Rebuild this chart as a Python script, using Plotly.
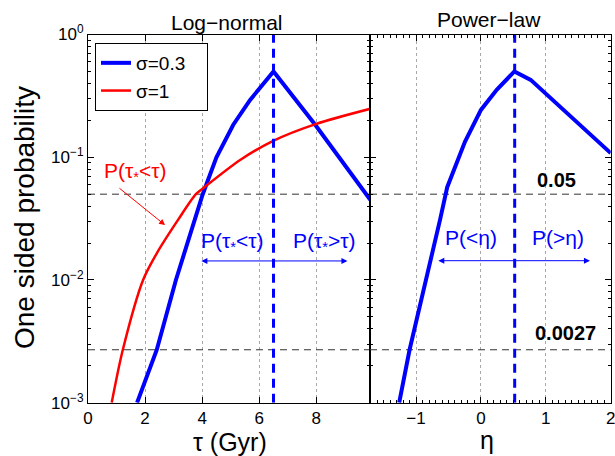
import plotly.graph_objects as go

W, H = 615, 456

# ---- data ----
# Log-normal panel, x = tau (Gyr)
tau_s03 = [1.72, 2.41, 3.08, 3.75, 4.02, 4.50, 5.09, 5.68, 6.04, 6.50, 7.96, 9.89]
p_s03 = [0.001, 0.0027, 0.010, 0.031, 0.050, 0.100, 0.184, 0.293, 0.374, 0.500, 0.184, 0.045]
tau_s1 = [0.83, 1.22, 1.93, 2.41, 3.16, 3.78, 4.10, 5.33, 6.49, 8.00, 9.89]
p_s1 = [0.001, 0.0027, 0.010, 0.0165, 0.031, 0.050, 0.0575, 0.095, 0.136, 0.187, 0.248]
# Power-law panel, x = eta
eta = [-1.26, -1.10, -0.63, -0.52, -0.245, 0.0, 0.243, 0.515, 0.767, 2.0]
p_eta = [0.001, 0.0027, 0.031, 0.057, 0.134, 0.243, 0.354, 0.500, 0.427, 0.108]

tau_peak = 6.5
eta_peak = 0.52
thresholds = [0.05, 0.0027]
threshold_labels = ["0.05", "0.0027"]

x1_range = [0, 9.88]
x2_range = [-1.71, 2]
y_range = [1e-3, 1]

ytick_vals = [1, 0.1, 0.01, 0.001]
ytick_text = ["10<sup>0</sup>", "10<sup>\u22121</sup>", "10<sup>\u22122</sup>", "10<sup>\u22123</sup>"]

FONT = "Liberation Sans, Arial, Helvetica, sans-serif"
BLUE = "#0000ff"
RED = "#ff0000"

fig = go.Figure()

# threshold dashed lines
for t in thresholds:
    fig.add_trace(go.Scatter(x=x1_range, y=[t, t], mode="lines", xaxis="x", yaxis="y",
                             line=dict(color="#333333", width=1, dash="7px,5px"),
                             showlegend=False, hoverinfo="skip"))
    fig.add_trace(go.Scatter(x=x2_range, y=[t, t], mode="lines", xaxis="x2", yaxis="y2",
                             line=dict(color="#333333", width=1, dash="7px,5px"),
                             showlegend=False, hoverinfo="skip"))

# curves
fig.add_trace(go.Scatter(x=tau_s03, y=p_s03, mode="lines", name="\u03c3=0.3\u00a0\u00a0\u00a0",
                         line=dict(color=BLUE, width=4), xaxis="x", yaxis="y"))
fig.add_trace(go.Scatter(x=tau_s1, y=p_s1, mode="lines", name="\u03c3=1",
                         line=dict(color=RED, width=2.5, shape="spline", smoothing=0.8),
                         xaxis="x", yaxis="y"))
fig.add_trace(go.Scatter(x=eta, y=p_eta, mode="lines", showlegend=False,
                         line=dict(color=BLUE, width=4), xaxis="x2", yaxis="y2"))

# vertical dashed peak lines
fig.add_trace(go.Scatter(x=[tau_peak, tau_peak], y=y_range, mode="lines", xaxis="x", yaxis="y",
                         line=dict(color=BLUE, width=3, dash="9px,6px"),
                         showlegend=False, hoverinfo="skip"))
fig.add_trace(go.Scatter(x=[eta_peak, eta_peak], y=y_range, mode="lines", xaxis="x2", yaxis="y2",
                         line=dict(color=BLUE, width=3, dash="9px,6px"),
                         showlegend=False, hoverinfo="skip"))

def px(x):
    return x / W

def py(y):
    return 1 - y / H

x1_dom = [px(88), px(370)]
x2_dom = [px(370), px(610.7)]
y_dom = [py(402.7), py(34.5)]

minor_y = [m * 10 ** e for e in (-3, -2, -1) for m in range(2, 10)]

common_axis = dict(showline=True, linecolor="black", linewidth=1, mirror="ticks",
                   ticks="inside", ticklen=6, tickcolor="black", automargin=False,
                   ticklabeloverflow="allow",
                   tickfont=dict(family=FONT, size=17, color="black"), zeroline=False)

fig.update_layout(
    template="none",
    width=W, height=H, margin=dict(l=0, r=0, t=0, b=0, pad=0, autoexpand=False),
    paper_bgcolor="white", plot_bgcolor="white",
    font=dict(family=FONT, color="black"),
    xaxis=dict(domain=x1_dom, range=x1_range, anchor="y", tickmode="array",
               tickvals=[0, 2, 4, 6, 8], showgrid=True, gridcolor="#a8a8a8",
               griddash="dot", gridwidth=1, **common_axis),
    xaxis2=dict(domain=x2_dom, range=x2_range, anchor="y2", tickmode="array",
                tickvals=[-1, 0, 1, 2], showgrid=True, gridcolor="#a8a8a8",
                griddash="dot", gridwidth=1,
                minor=dict(dtick=0.1, ticks="inside", ticklen=3, tickcolor="black", showgrid=False),
                **common_axis),
    yaxis=dict(domain=y_dom, type="log", range=[-3, 0], anchor="x", tickmode="array",
               tickvals=ytick_vals, ticktext=ytick_text, showgrid=False,
               minor=dict(tickvals=minor_y, ticks="inside", ticklen=3, tickcolor="black", showgrid=False),
               **common_axis),
    yaxis2=dict(domain=y_dom, type="log", range=[-3, 0], anchor="x2", tickmode="array",
                tickvals=ytick_vals, showticklabels=False, showgrid=False,
                minor=dict(tickvals=minor_y, ticks="inside", ticklen=3, tickcolor="black", showgrid=False),
                **common_axis),
    legend=dict(x=px(95), y=py(43), xanchor="left", yanchor="top",
                bgcolor="white", bordercolor="black", borderwidth=1,
                font=dict(family=FONT, size=19, color="black"), tracegroupgap=0),
    showlegend=True,
)

ann = []
# panel titles and axis titles
ann.append(dict(text="Log\u2212normal", x=px(227), y=py(22), xref="paper", yref="paper",
                showarrow=False, font=dict(size=21, color="black"), xanchor="center", yanchor="middle"))
ann.append(dict(text="Power\u2212law", x=px(489), y=py(19.5), xref="paper", yref="paper",
                showarrow=False, font=dict(size=21, color="black"), xanchor="center", yanchor="middle"))
ann.append(dict(text="One sided probability", x=px(24), y=py(218), xref="paper", yref="paper",
                showarrow=False, textangle=-90, font=dict(size=28, color="black"),
                xanchor="center", yanchor="middle"))
ann.append(dict(text="\u03c4 (Gyr)", x=px(229.5), y=py(442), xref="paper", yref="paper",
                showarrow=False, font=dict(size=25, color="black"), xanchor="center", yanchor="middle"))
ann.append(dict(text="\u03b7", x=px(487), y=py(440), xref="paper", yref="paper",
                showarrow=False, font=dict(size=25, color="black"), xanchor="center", yanchor="middle"))

# red label + arrow
ann.append(dict(text="P(\u03c4<sub>*</sub>&lt;\u03c4)", x=1.65, y=-1.121, xref="x", yref="y",
                showarrow=False, font=dict(size=21, color=RED)))
ann.append(dict(text="", x=2.70, y=-1.553, ax=1.05, ay=-1.243, xref="x", yref="y",
                axref="x", ayref="y", showarrow=True, arrowhead=2, arrowsize=1.2,
                arrowwidth=1, arrowcolor=RED, standoff=0, startstandoff=0))

# blue labels + double arrows (log-normal)
ann.append(dict(text="P(\u03c4<sub>*</sub>&lt;\u03c4)", x=5.07, y=-1.689, xref="x", yref="y",
                showarrow=False, font=dict(size=21, color=BLUE)))
ann.append(dict(text="P(\u03c4<sub>*</sub>&gt;\u03c4)", x=8.28, y=-1.689, xref="x", yref="y",
                showarrow=False, font=dict(size=21, color=BLUE)))
ann.append(dict(text="", x=9.09, y=-1.845, ax=3.92, ay=-1.845, xref="x", yref="y",
                axref="x", ayref="y", showarrow=True, arrowhead=2, startarrowhead=2,
                arrowside="end+start", arrowsize=1.2, startarrowsize=1.2,
                arrowwidth=1, arrowcolor=BLUE, standoff=0, startstandoff=0))

# power-law labels + double arrow
ann.append(dict(text="P(&lt;\u03b7)", x=-0.153, y=-1.658, xref="x2", yref="y2",
                showarrow=False, font=dict(size=21, color=BLUE)))
ann.append(dict(text="P(&gt;\u03b7)", x=1.188, y=-1.658, xref="x2", yref="y2",
                showarrow=False, font=dict(size=21, color=BLUE)))
ann.append(dict(text="", x=1.68, y=-1.843, ax=-0.68, ay=-1.843, xref="x2", yref="y2",
                axref="x2", ayref="y2", showarrow=True, arrowhead=2, startarrowhead=2,
                arrowside="end+start", arrowsize=1.2, startarrowsize=1.2,
                arrowwidth=1, arrowcolor=BLUE, standoff=0, startstandoff=0))

# threshold labels
ann.append(dict(text="<b>" + threshold_labels[0] + "</b>", x=1.172, y=-1.186, xref="x2", yref="y2",
                showarrow=False, font=dict(size=20, color="black")))
ann.append(dict(text="<b>" + threshold_labels[1] + "</b>", x=1.296, y=-2.433, xref="x2", yref="y2",
                showarrow=False, font=dict(size=20, color="black")))

fig.update_layout(annotations=ann)

fig.write_html("out.html")
